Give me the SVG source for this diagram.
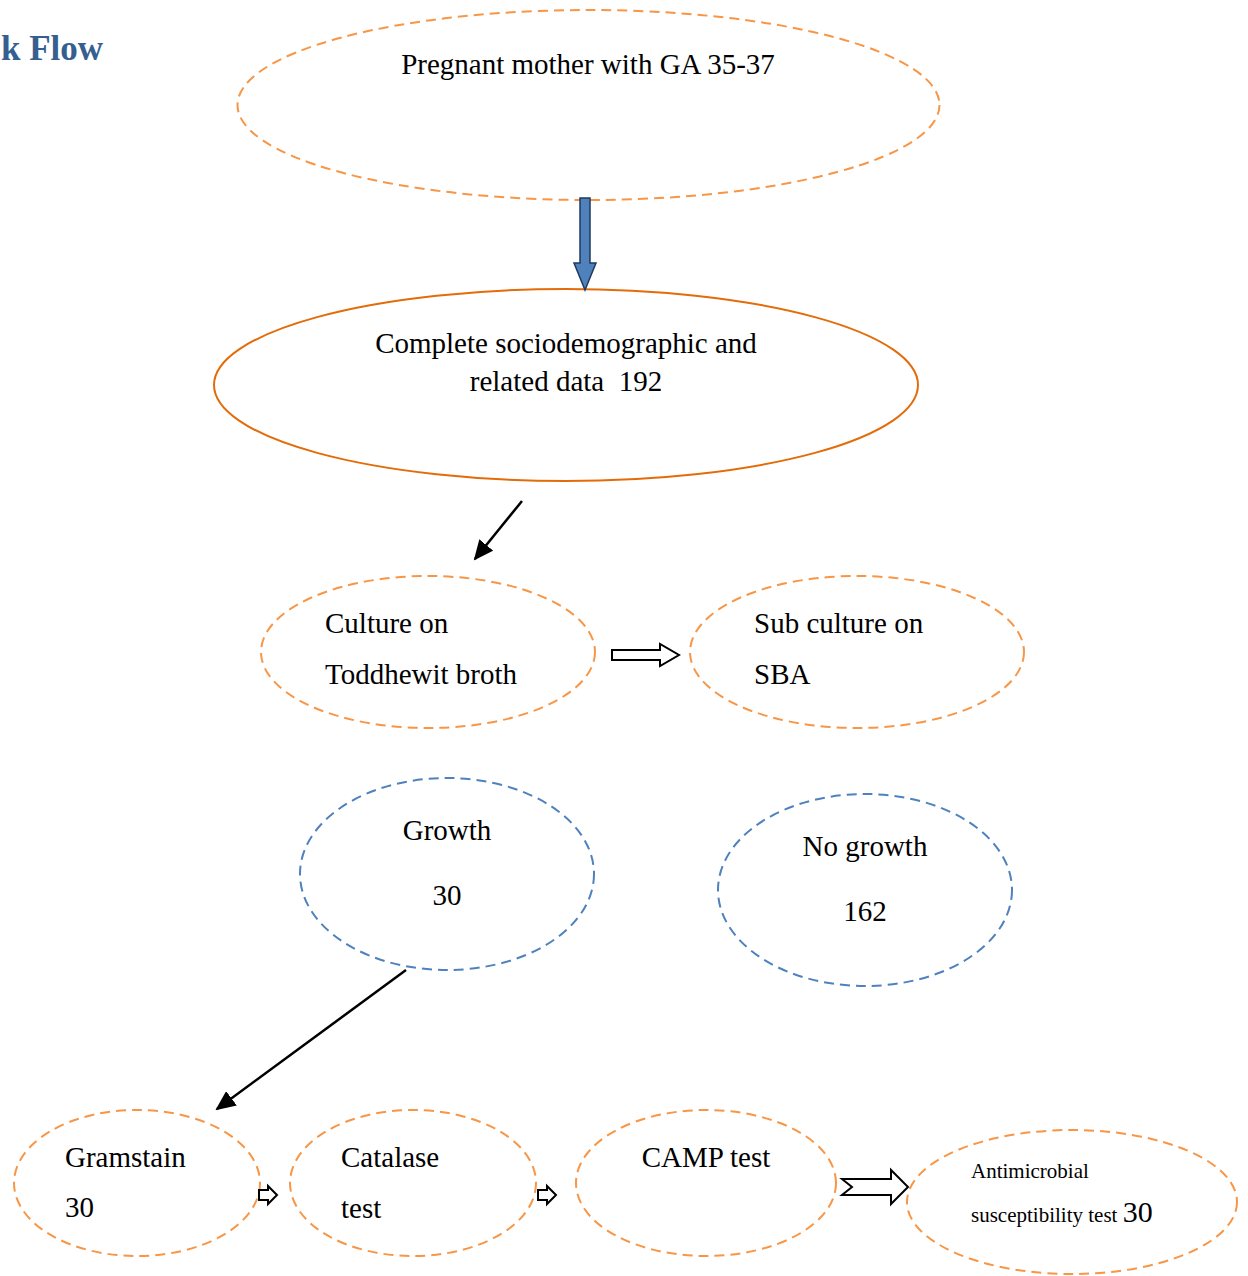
<svg xmlns="http://www.w3.org/2000/svg" width="1248" height="1276" viewBox="0 0 1248 1276">
<defs>
<style>
.t{font-family:"Liberation Serif","Times New Roman",serif;font-size:29px;fill:#000}
.od{fill:none;stroke:#f79646;stroke-width:2;stroke-dasharray:10 6}
.bd{fill:none;stroke:#4f81bd;stroke-width:2;stroke-dasharray:10 6}
.os{fill:none;stroke:#e36c09;stroke-width:2}
.ha{fill:#fff;stroke:#000;stroke-width:2;stroke-linejoin:miter}
.ln{stroke:#000;stroke-width:2.5;fill:none}
</style>
<marker id="ahb" markerWidth="20" markerHeight="18" refX="18" refY="9" orient="auto" markerUnits="userSpaceOnUse">
<path d="M0,0 L20,9 L0,18 z" fill="#000"/>
</marker>
</defs>
<rect width="1248" height="1276" fill="#fff"/>
<text x="1" y="60" font-family="Liberation Serif,serif" font-weight="bold" font-size="35" fill="#365f91">k Flow</text>

<g id="n1">
<ellipse class="od" cx="588.5" cy="105" rx="351" ry="95"/>
<text class="t" x="588" y="74" text-anchor="middle">Pregnant mother with GA 35-37</text>
</g>
<g id="n2">
<ellipse class="os" cx="566" cy="385" rx="352" ry="96"/>
<text class="t" x="566" y="353" text-anchor="middle">Complete sociodemographic and</text>
<text class="t" x="566" y="391" text-anchor="middle" xml:space="preserve">related data  192</text>
</g>
<g id="n3">
<ellipse class="od" cx="428" cy="652" rx="167" ry="76"/>
<text class="t" x="325" y="633">Culture on</text>
<text class="t" x="325" y="684">Toddhewit broth</text>
</g>
<g id="n4">
<ellipse class="od" cx="857" cy="652" rx="167" ry="76"/>
<text class="t" x="754" y="633">Sub culture on</text>
<text class="t" x="754" y="684">SBA</text>
</g>
<g id="n5">
<ellipse class="bd" cx="447" cy="874" rx="147" ry="96"/>
<text class="t" x="447" y="840" text-anchor="middle">Growth</text>
<text class="t" x="447" y="905" text-anchor="middle">30</text>
</g>
<g id="n6">
<ellipse class="bd" cx="865" cy="890" rx="147" ry="96"/>
<text class="t" x="865" y="856" text-anchor="middle">No growth</text>
<text class="t" x="865" y="921" text-anchor="middle">162</text>
</g>
<g id="n7">
<ellipse class="od" cx="137" cy="1183" rx="123" ry="73"/>
<text class="t" x="65" y="1167">Gramstain</text>
<text class="t" x="65" y="1217">30</text>
</g>
<g id="n8">
<ellipse class="od" cx="413" cy="1183" rx="123" ry="73"/>
<text class="t" x="341" y="1167">Catalase</text>
<text class="t" x="341" y="1218">test</text>
</g>
<g id="n9">
<ellipse class="od" cx="706" cy="1183" rx="130" ry="73"/>
<text class="t" x="706" y="1167" text-anchor="middle">CAMP test</text>
</g>
<g id="n10">
<ellipse class="od" cx="1072" cy="1202" rx="165" ry="72"/>
<text class="t" x="971" y="1178" style="font-size:21px">Antimicrobial</text>
<text class="t" x="971" y="1222"><tspan style="font-size:21px">susceptibility test </tspan><tspan style="font-size:30px">30</tspan></text>
</g>

<g id="connectors">
<path d="M580,198 L590,198 L590,263 L596,263 L585,290 L574,263 L580,263 Z" fill="#4f81bd" stroke="#1f3a5f" stroke-width="1.5"/>
<line class="ln" x1="522" y1="501" x2="475" y2="559" marker-end="url(#ahb)"/>
<path class="ha" d="M612,650 L660,650 L660,644 L679,655 L660,666 L660,660 L612,660 Z"/>
<line class="ln" x1="406" y1="970" x2="217" y2="1109" marker-end="url(#ahb)"/>
<path class="ha" stroke-width="1.5" d="M259,1190 L268,1190 L268,1186 L277,1195 L268,1204 L268,1200 L259,1200 Z"/>
<path class="ha" stroke-width="1.5" d="M538,1190 L547,1190 L547,1186 L556,1195 L547,1204 L547,1200 L538,1200 Z"/>
<path class="ha" d="M842,1179 L891,1179 L891,1170 L908,1187 L891,1204 L891,1195 L842,1195 L852,1187 Z"/>
</g>
</svg>
